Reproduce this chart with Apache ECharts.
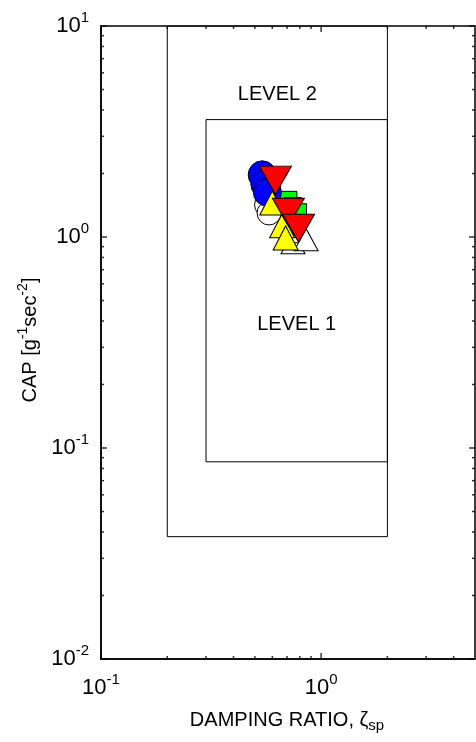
<!DOCTYPE html>
<html>
<head>
<meta charset="utf-8">
<script src="https://cdn.jsdelivr.net/npm/echarts@6/dist/echarts.min.js"></script>
<style>
  html, body { margin: 0; padding: 0; background: #fff; }
  #chart { width: 476px; height: 742px; }
</style>
</head>
<body>
<div id="chart"></div>
<script>
// Short-period damping ratio and CAP for each configuration group
const blueCircles     = [[0.54, 1.97], [0.555, 1.78], [0.57, 1.63]];
const whiteCircles    = [[0.565, 1.42], [0.58, 1.30]];
const greenSquares    = [[0.71, 1.50], [0.745, 1.40], [0.785, 1.31]];
const yellowTriangles = [[0.60, 1.45], [0.665, 1.13], [0.69, 0.99]];
const redTriangles    = [[0.62, 1.86], [0.71, 1.31], [0.79, 1.10]];
const whiteTriangles  = [[0.745, 0.94], [0.81, 1.06], [0.855, 0.97]];

// Flying-quality level boundaries
const level1Zeta = [0.3, 2];
const level1Cap  = [0.086, 3.6];
const level2Zeta = [0.2, 2];
const level2Cap  = [0.038, 10];
const levelNames = ['LEVEL 1', 'LEVEL 2'];

// Axis ranges and tick values
const zetaRange = [0.1, 5];
const capRange  = [0.01, 10];
const zetaMajorTicks = [0.1, 1];
const zetaMinorTicks = [0.2, 0.3, 0.4, 0.5, 0.6, 0.7, 0.8, 0.9, 2, 3, 4];
const capMajorTicks  = [0.01, 0.1, 1, 10];
const capMinorTicks  = [0.02, 0.03, 0.04, 0.05, 0.06, 0.07, 0.08, 0.09,
                        0.2, 0.3, 0.4, 0.5, 0.6, 0.7, 0.8, 0.9,
                        2, 3, 4, 5, 6, 7, 8, 9];

const FONT = '"Liberation Sans", Arial, Helvetica, sans-serif';

function powerLabel(v) {
  const e = Math.log10(v);
  const r = Math.round(e);
  if (Math.abs(e - r) > 1e-6) return '';
  return '{b|10}{s|' + r + '}';
}
const powerRich = {
  b: { fontSize: 22, fontFamily: FONT, color: '#000' },
  s: { fontSize: 15, fontFamily: FONT, color: '#000', padding: [0, 0, 17, 0] }
};

function box(zeta, cap) {
  return [[zeta[0], cap[0]], [zeta[1], cap[0]], [zeta[1], cap[1]],
          [zeta[0], cap[1]], [zeta[0], cap[0]]];
}

function markerSeries(name, data, symbol, size, color, rotate) {
  return {
    name, type: 'scatter', data, symbol, symbolSize: size,
    symbolRotate: rotate || 0,
    itemStyle: { color, borderColor: '#000', borderWidth: 1, opacity: 1 },
    z: 5, silent: true
  };
}

function tickSeries(values, fixed, isX, side, len) {
  const data = values.map(v => isX ? [v, fixed] : [fixed, v]);
  const size = isX ? [1.5, len] : [len, 1.5];
  let offset;
  if (isX) offset = [0, side === 'bottom' ? -len / 2 : len / 2];
  else offset = [side === 'left' ? len / 2 : -len / 2, 0];
  return {
    type: 'scatter', data, symbol: 'rect', symbolSize: size,
    symbolOffset: offset, clip: false, silent: true, z: 6,
    itemStyle: { color: '#000' }
  };
}

const chart = echarts.init(document.getElementById('chart'), null, { renderer: 'canvas' });

const series = [
  { type: 'line', data: box(level2Zeta, level2Cap), symbol: 'none',
    lineStyle: { color: '#000', width: 1 }, silent: true, z: 3 },
  { type: 'line', data: box(level1Zeta, level1Cap), symbol: 'none',
    lineStyle: { color: '#000', width: 1 }, silent: true, z: 3 },
  { type: 'scatter', symbolSize: 0, silent: true, z: 4,
    itemStyle: { color: '#000' },
    label: { show: true, position: 'inside', formatter: p => p.data[2],
             fontSize: 20, fontFamily: FONT, color: '#000', opacity: 1,
             textBorderWidth: 0, textShadowBlur: 0 },
    data: [
      [Math.sqrt(level1Zeta[0] * level1Zeta[1]), 0.387, levelNames[0]],
      [Math.sqrt(level2Zeta[0] * level2Zeta[1]), 4.72, levelNames[1]]
    ] },
  markerSeries('whiteTriangles', whiteTriangles, 'triangle', [24, 22], '#fff'),
  markerSeries('whiteCircles', whiteCircles, 'circle', 24, '#fff'),
  markerSeries('greenSquares', greenSquares, 'rect', 17, '#00ff00'),
  markerSeries('blueCircles', blueCircles, 'circle', 28, '#0000ff'),
  markerSeries('yellowTriangles', yellowTriangles, 'triangle', [25, 24], '#ffff00'),
  markerSeries('redTriangles', redTriangles, 'triangle', [32, 28], '#ff0000', 180),
  tickSeries(zetaMinorTicks, capRange[0], true, 'bottom', 3),
  tickSeries(zetaMinorTicks, capRange[1], true, 'top', 3),
  tickSeries(zetaMajorTicks, capRange[0], true, 'bottom', 6),
  tickSeries(zetaMajorTicks, capRange[1], true, 'top', 6),
  tickSeries(capMinorTicks, zetaRange[0], false, 'left', 3),
  tickSeries(capMinorTicks, zetaRange[1], false, 'right', 3),
  tickSeries(capMajorTicks, zetaRange[0], false, 'left', 6),
  tickSeries(capMajorTicks, zetaRange[1], false, 'right', 6)
];

chart.setOption({
  animation: false,
  backgroundColor: '#fff',
  grid: { left: 101, top: 26, right: 1, bottom: 83, show: true,
          borderColor: '#000', borderWidth: 1.5, backgroundColor: 'transparent' },
  xAxis: {
    type: 'log', logBase: 10, min: zetaRange[0], max: zetaRange[1],
    axisLine: { show: true, lineStyle: { color: '#000', width: 1.5 } },
    axisTick: { show: false }, splitLine: { show: false },
    axisLabel: { formatter: powerLabel, rich: powerRich, margin: 13,
                 showMaxLabel: false, color: '#000' }
  },
  yAxis: {
    type: 'log', logBase: 10, min: capRange[0], max: capRange[1],
    axisLine: { show: true, lineStyle: { color: '#000', width: 1.5 } },
    axisTick: { show: false }, splitLine: { show: false },
    axisLabel: { formatter: powerLabel, rich: powerRich, margin: 12, color: '#000' }
  },
  graphic: [
    { type: 'text', x: 287, y: 720, silent: true,
      style: { text: '{t|DAMPING RATIO, ζ}{sub|sp}', align: 'center', verticalAlign: 'middle',
        rich: { t: { fontSize: 20, fontFamily: FONT, color: '#000' },
                sub: { fontSize: 15, fontFamily: FONT, color: '#000', padding: [12, 0, 0, 0] } } } },
    { type: 'text', x: 30, y: 340, rotation: Math.PI / 2, silent: true,
      style: { text: '{t|CAP [g}{s|-1}{t|sec}{s|-2}{t|]}', align: 'center', verticalAlign: 'middle',
        rich: { t: { fontSize: 20, fontFamily: FONT, color: '#000' },
                s: { fontSize: 14, fontFamily: FONT, color: '#000', padding: [0, 0, 14, 0] } } } }
  ],
  series
});
</script>
</body>
</html>
